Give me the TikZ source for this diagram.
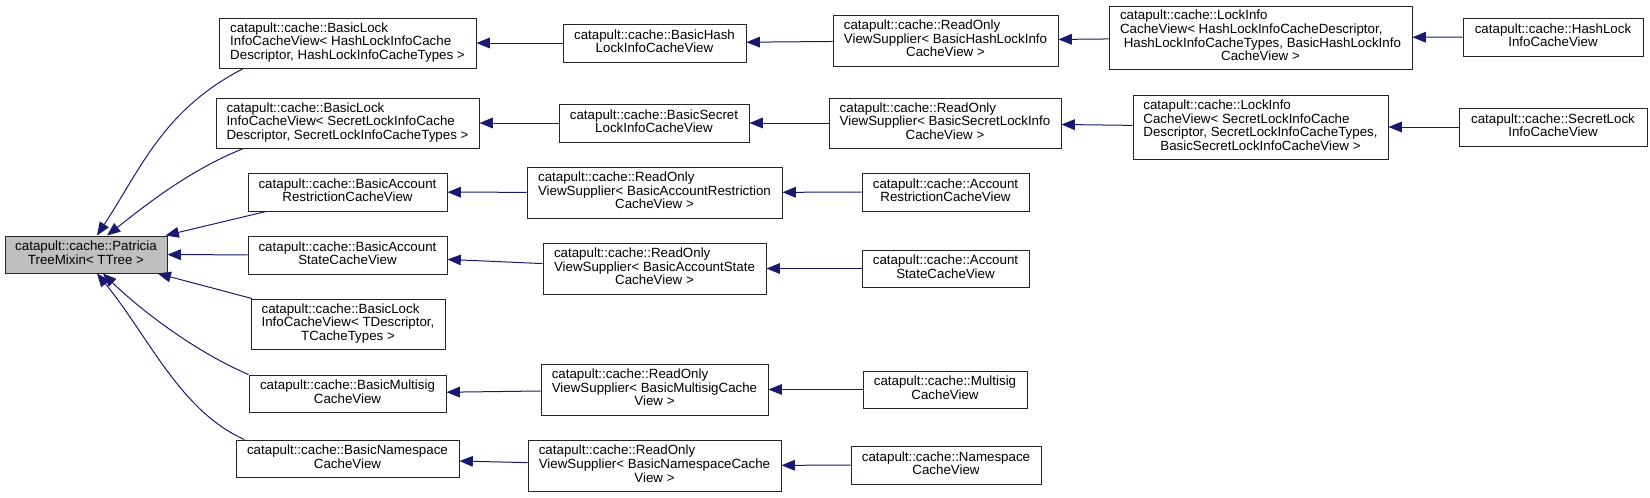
\documentclass[tikz,border=0pt]{standalone}
\usepackage{fontspec}
\setmainfont{Liberation Sans}
\usepackage{tikz}
\usetikzlibrary{arrows.meta,calc}

\definecolor{edgeblue}{HTML}{191970}
\definecolor{rootgray}{HTML}{BFBFBF}

\newcommand{\twoln}[2]{\begin{tabular}{@{}c@{}}#1\\#2\end{tabular}}
\newcommand{\threeln}[3]{\begin{tabular}{@{}l@{}}#1\\#2\\\multicolumn{1}{@{}c@{}}{#3}\end{tabular}}
\newcommand{\fourln}[4]{\begin{tabular}{@{}l@{}}#1\\#2\\#3\\\multicolumn{1}{@{}c@{}}{#4}\end{tabular}}

\tikzset{
  klass/.style 2 args={draw=black!85, line width=0.75pt, inner sep=0pt,
    minimum width=#1*0.75pt, minimum height=#2*0.75pt, font=\fontsize{10}{10}\selectfont},
  derived/.style={draw=edgeblue, line width=0.75pt, -{Triangle[length=10pt,width=8pt]}},
}

\begin{document}
\begin{tikzpicture}[x=0.75pt,y=-0.75pt]
    \useasboundingbox (0,0) rectangle (1650,497);

    \node[klass={162}{37},fill=rootgray] (patricia) at (86,254.5) {\twoln{catapult::cache::Patricia}{TreeMixin< TTree >}};

    \node[klass={257}{50}] (basicLockHash) at (347.5,43) {\threeln{catapult::cache::BasicLock}{InfoCacheView< HashLockInfoCache}{Descriptor, HashLockInfoCacheTypes >}};
    \node[klass={263}{50}] (basicLockSecret) at (347.5,123) {\threeln{catapult::cache::BasicLock}{InfoCacheView< SecretLockInfoCache}{Descriptor, SecretLockInfoCacheTypes >}};
    \node[klass={199}{38}] (basicAcctRestr) at (347.5,192) {\twoln{catapult::cache::BasicAccount}{RestrictionCacheView}};
    \node[klass={199}{38}] (basicAcctState) at (347.5,255) {\twoln{catapult::cache::BasicAccount}{StateCacheView}};
    \node[klass={194}{50}] (basicLockT) at (348,324) {\threeln{catapult::cache::BasicLock}{InfoCacheView< TDescriptor,}{TCacheTypes >}};
    \node[klass={197}{37}] (basicMultisig) at (347.5,393.5) {\twoln{catapult::cache::BasicMultisig}{CacheView}};
    \node[klass={223}{37}] (basicNamespace) at (347.5,458.5) {\twoln{catapult::cache::BasicNamespace}{CacheView}};

    \node[klass={183}{38}] (basicHashLock) at (654.5,43) {\twoln{catapult::cache::BasicHash}{LockInfoCacheView}};
    \node[klass={190}{38}] (basicSecretLock) at (654,123) {\twoln{catapult::cache::BasicSecret}{LockInfoCacheView}};
    \node[klass={255}{51}] (roAcctRestr) at (654.5,192.5) {\threeln{catapult::cache::ReadOnly}{ViewSupplier< BasicAccountRestriction}{CacheView >}};
    \node[klass={223}{51}] (roAcctState) at (654.5,268.5) {\threeln{catapult::cache::ReadOnly}{ViewSupplier< BasicAccountState}{CacheView >}};
    \node[klass={227}{51}] (roMultisig) at (654.5,389.5) {\threeln{catapult::cache::ReadOnly}{ViewSupplier< BasicMultisigCache}{View >}};
    \node[klass={253}{51}] (roNamespace) at (654.5,465.5) {\threeln{catapult::cache::ReadOnly}{ViewSupplier< BasicNamespaceCache}{View >}};

    \node[klass={225}{51}] (roHashLock) at (945.5,40.5) {\threeln{catapult::cache::ReadOnly}{ViewSupplier< BasicHashLockInfo}{CacheView >}};
    \node[klass={232}{50}] (roSecretLock) at (945,123) {\threeln{catapult::cache::ReadOnly}{ViewSupplier< BasicSecretLockInfo}{CacheView >}};
    \node[klass={167}{38}] (acctRestr) at (945.5,192) {\twoln{catapult::cache::Account}{RestrictionCacheView}};
    \node[klass={167}{37}] (acctState) at (945.5,268.5) {\twoln{catapult::cache::Account}{StateCacheView}};
    \node[klass={164}{37}] (multisig) at (945,389.5) {\twoln{catapult::cache::Multisig}{CacheView}};
    \node[klass={190}{38}] (namespace) at (946,465) {\twoln{catapult::cache::Namespace}{CacheView}};

    \node[klass={303}{63}] (lockInfoHash) at (1260.5,37.5) {\fourln{catapult::cache::LockInfo}{CacheView< HashLockInfoCacheDescriptor,}{\ HashLockInfoCacheTypes, BasicHashLockInfo}{CacheView >}};
    \node[klass={255}{64}] (lockInfoSecret) at (1260.5,127) {\fourln{catapult::cache::LockInfo}{CacheView< SecretLockInfoCache}{Descriptor, SecretLockInfoCacheTypes,}{BasicSecretLockInfoCacheView >}};

    \node[klass={180}{38}] (hashLock) at (1553,37) {\twoln{catapult::cache::HashLock}{InfoCacheView}};
    \node[klass={188}{38}] (secretLock) at (1553,127) {\twoln{catapult::cache::SecretLock}{InfoCacheView}};

    \draw[derived] ($(basicLockHash.south west)+(25,0)$) .. controls +(-80,41) and +(44,-67) .. ($(patricia.north)+(11,0)$);
    \draw[derived] ($(basicLockSecret.south west)+(28,0)$) .. controls +(-56,22) and +(32,-25) .. ($(patricia.north)+(21,0)$);
    \draw[derived] (basicAcctRestr) -- (patricia);
    \draw[derived] (basicAcctState) -- (patricia);
    \draw[derived] (basicLockT) -- (patricia);
    \draw[derived] (basicMultisig.north west) .. controls +(-56,-24) and +(35,34) .. ($(patricia.south)+(17,0)$);
    \draw[derived] ($(basicNamespace.north west)+(9,0)$) .. controls +(-64,-28) and +(51,62) .. ($(patricia.south)+(11,0)$);

    \draw[derived] (basicHashLock) -- (basicLockHash);
    \draw[derived] (roHashLock) -- (basicHashLock);
    \draw[derived] (lockInfoHash) -- (roHashLock);
    \draw[derived] (hashLock) -- (lockInfoHash);

    \draw[derived] (basicSecretLock) -- (basicLockSecret);
    \draw[derived] (roSecretLock) -- (basicSecretLock);
    \draw[derived] (lockInfoSecret) -- (roSecretLock);
    \draw[derived] (secretLock) -- (lockInfoSecret);

    \draw[derived] (roAcctRestr) -- (basicAcctRestr);
    \draw[derived] (acctRestr) -- (roAcctRestr);
    \draw[derived] (roAcctState) -- (basicAcctState);
    \draw[derived] (acctState) -- (roAcctState);
    \draw[derived] (roMultisig) -- (basicMultisig);
    \draw[derived] (multisig) -- (roMultisig);
    \draw[derived] (roNamespace) -- (basicNamespace);
    \draw[derived] (namespace) -- (roNamespace);
\end{tikzpicture}
\end{document}
